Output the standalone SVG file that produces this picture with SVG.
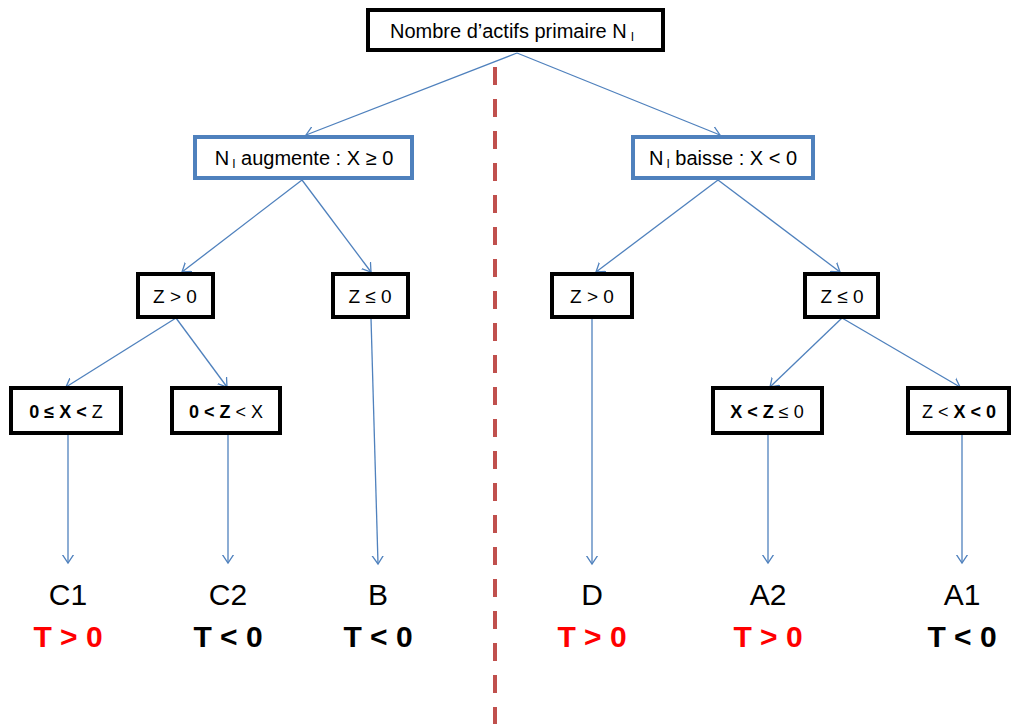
<svg xmlns="http://www.w3.org/2000/svg" width="1011" height="724" viewBox="0 0 1011 724">
<defs>
<style>
.bk{fill:#fff;stroke:#000;stroke-width:4}
.bl{fill:#fff;stroke:#4f81bd;stroke-width:4}
.t{font-family:"Liberation Sans",Arial,sans-serif;fill:#000;text-anchor:middle}
.s{font-size:20px}
.z{font-size:19px}
.m{font-size:18px}
.big{font-size:30px}
.res{font-size:30px;font-weight:bold}
.red{fill:#ff0000}
.c{stroke:#4f81bd;stroke-width:1.3;fill:none;marker-end:url(#ah)}
</style>
<marker id="ah" markerWidth="16" markerHeight="16" viewBox="-8 -8 16 16" refX="0" refY="0" orient="auto" markerUnits="userSpaceOnUse">
<path d="M-9,-6 L0,0 L-9,6" fill="none" stroke="#4f81bd" stroke-width="1.3"/>
</marker>
</defs>
<line x1="495" y1="67" x2="495" y2="724" stroke="#c0504d" stroke-width="4" stroke-dasharray="18 14"/>
<g id="connectors">
<line class="c" x1="517" y1="53" x2="306" y2="135"/>
<line class="c" x1="517" y1="53" x2="720" y2="135"/>
<line class="c" x1="302" y1="180" x2="182" y2="272"/>
<line class="c" x1="302" y1="180" x2="371" y2="272"/>
<line class="c" x1="718" y1="180" x2="596" y2="272"/>
<line class="c" x1="718" y1="180" x2="840" y2="272"/>
<line class="c" x1="176" y1="318" x2="66" y2="387"/>
<line class="c" x1="176" y1="318" x2="227" y2="387"/>
<line class="c" x1="371" y1="318" x2="378" y2="564"/>
<line class="c" x1="592" y1="318" x2="592" y2="564"/>
<line class="c" x1="842" y1="318" x2="770" y2="387"/>
<line class="c" x1="842" y1="318" x2="960" y2="387"/>
<line class="c" x1="68" y1="434" x2="68" y2="563"/>
<line class="c" x1="228" y1="434" x2="228" y2="563"/>
<line class="c" x1="768" y1="434" x2="768" y2="563"/>
<line class="c" x1="962" y1="434" x2="962" y2="563"/>
</g>
<g id="root">
<rect class="bk" x="368" y="10" width="295" height="40"/>
<text class="t s" x="512" y="38">Nombre d’actifs primaire N<tspan font-size="12" dx="4" dy="3">I</tspan></text>
</g>
<g id="n-up">
<rect class="bl" x="195" y="137" width="217" height="41"/>
<text class="t s" x="304" y="165">N<tspan font-size="12" dx="3" dy="3">I</tspan><tspan dy="-3"> augmente : X ≥ 0</tspan></text>
</g>
<g id="n-down">
<rect class="bl" x="633" y="137" width="180" height="41"/>
<text class="t s" x="723" y="165">N<tspan font-size="12" dx="3" dy="3">I</tspan><tspan dy="-3"> baisse : X &lt; 0</tspan></text>
</g>
<g id="z1">
<rect class="bk" x="138" y="274" width="75" height="43"/>
<text class="t z" x="175" y="303">Z &gt; 0</text>
</g>
<g id="z2">
<rect class="bk" x="333" y="274" width="75" height="43"/>
<text class="t z" x="370" y="303">Z ≤ 0</text>
</g>
<g id="z3">
<rect class="bk" x="552" y="274" width="80" height="43"/>
<text class="t z" x="592" y="303">Z &gt; 0</text>
</g>
<g id="z4">
<rect class="bk" x="805" y="274" width="73" height="43"/>
<text class="t z" x="842" y="303">Z ≤ 0</text>
</g>
<g id="c1box">
<rect class="bk" x="11" y="388" width="110" height="45"/>
<text class="t m" x="66" y="418"><tspan font-weight="bold">0 ≤ X &lt; </tspan>Z</text>
</g>
<g id="c2box">
<rect class="bk" x="172" y="388" width="108" height="45"/>
<text class="t m" x="226" y="418"><tspan font-weight="bold">0 &lt; Z </tspan>&lt; X</text>
</g>
<g id="a2box">
<rect class="bk" x="713" y="388" width="109" height="45"/>
<text class="t m" x="767" y="418"><tspan font-weight="bold">X &lt; Z </tspan>≤ 0</text>
</g>
<g id="a1box">
<rect class="bk" x="908" y="388" width="101" height="45"/>
<text class="t m" x="959" y="418">Z &lt; <tspan font-weight="bold">X &lt; 0</tspan></text>
</g>
<g id="leaves">
<text class="t big" x="68" y="605">C1</text>
<text class="t res red" x="68" y="647">T  &gt; 0</text>
<text class="t big" x="228" y="605">C2</text>
<text class="t res" x="228" y="647">T  &lt; 0</text>
<text class="t big" x="378" y="605">B</text>
<text class="t res" x="378" y="647">T  &lt; 0</text>
<text class="t big" x="592" y="605">D</text>
<text class="t res red" x="592" y="647">T &gt; 0</text>
<text class="t big" x="768" y="605">A2</text>
<text class="t res red" x="768" y="647">T  &gt; 0</text>
<text class="t big" x="962" y="605">A1</text>
<text class="t res" x="962" y="647">T  &lt; 0</text>
</g>
</svg>
